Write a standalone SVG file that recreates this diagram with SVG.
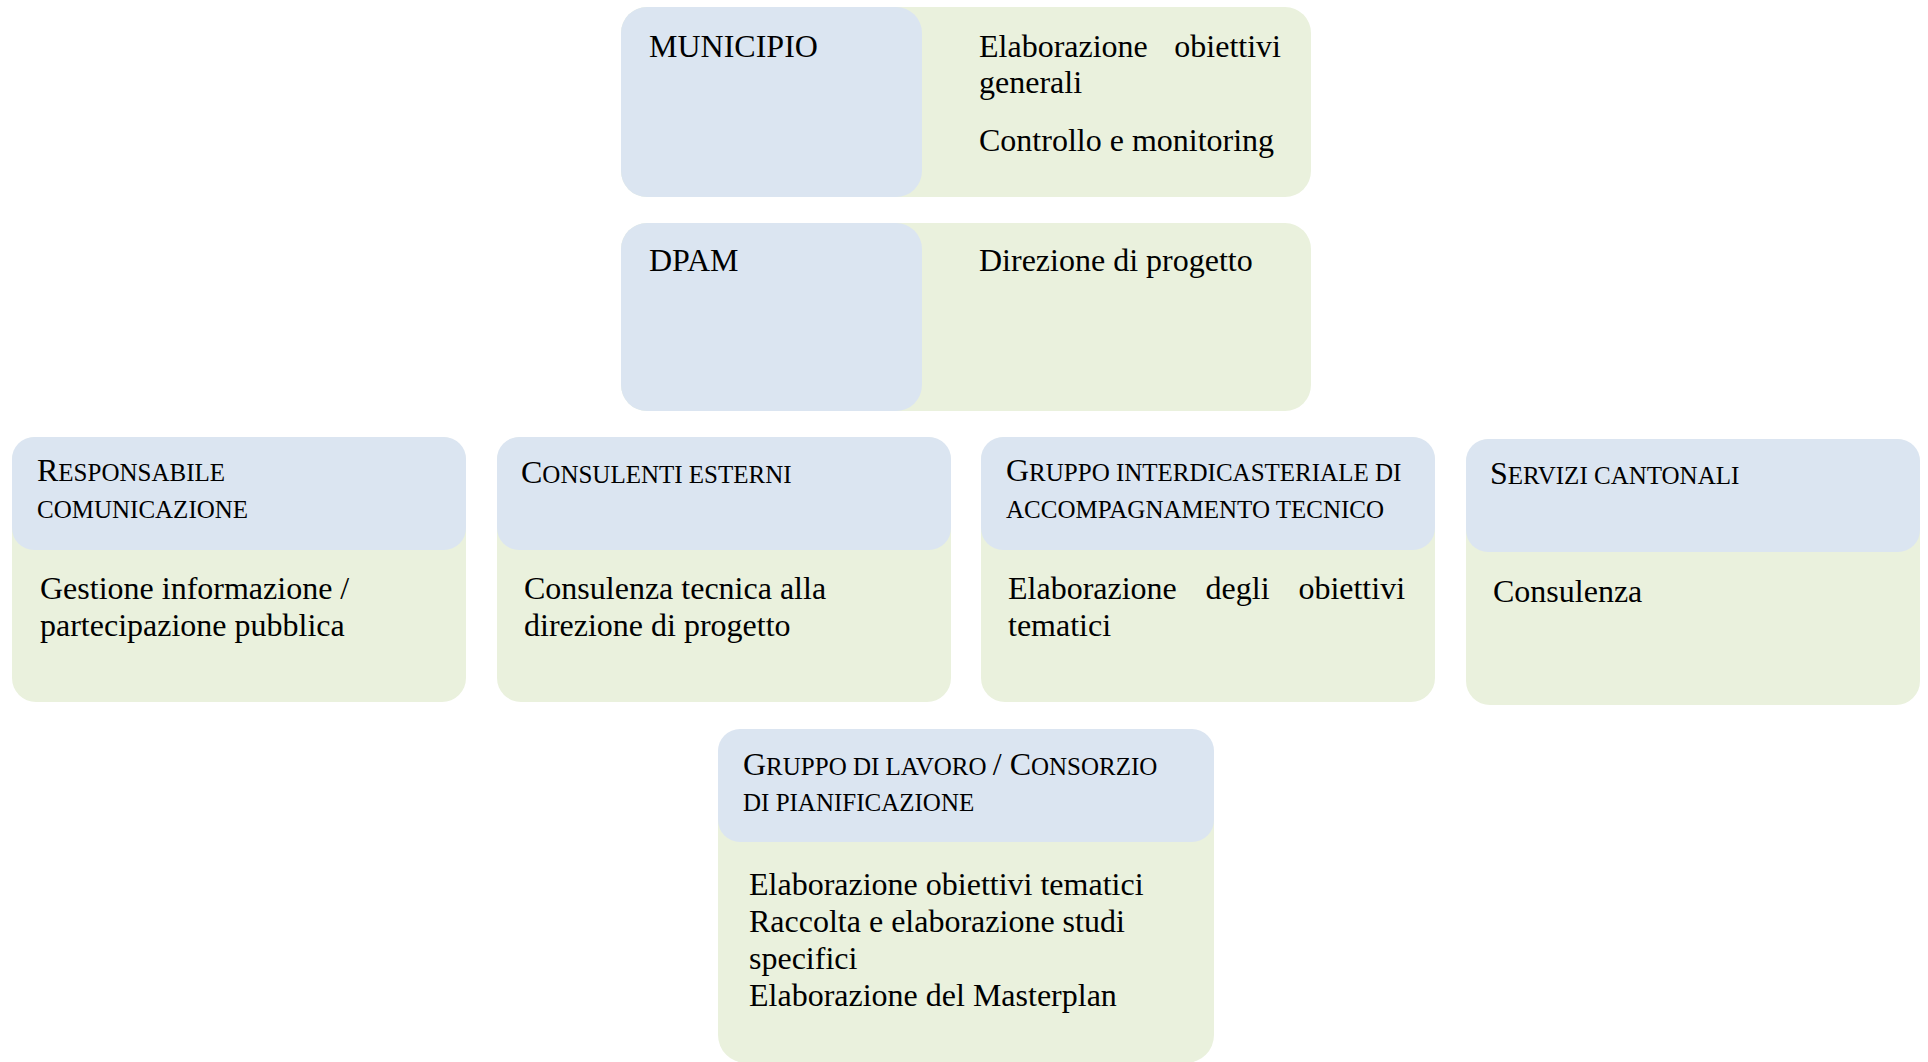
<svg xmlns="http://www.w3.org/2000/svg" width="1928" height="1062" viewBox="0 0 1928 1062">
<style>
.bg{fill:#ffffff}
.g{fill:#EAF1DD}
.b{fill:#DBE5F1}
.t{font-family:"Liberation Serif","Times New Roman",serif;font-size:32px;fill:#000}
.sc{font-size:25px}
</style>
<rect class="bg" x="0" y="0" width="1928" height="1062"/>
<g id="connectors"/>
<g id="municipio">
<rect class="g" x="621" y="7" width="690" height="190" rx="26"/>
<rect class="b" x="621" y="7" width="301" height="190" rx="26"/>
<text class="t" x="649" y="57">MUNICIPIO</text>
<text class="t" x="979" y="57" style="word-spacing:18.5px">Elaborazione obiettivi</text>
<text class="t" x="979" y="93">generali</text>
<text class="t" x="979" y="151">Controllo e monitoring</text>
</g>
<g id="dpam">
<rect class="g" x="621" y="223" width="690" height="188" rx="26"/>
<rect class="b" x="621" y="223" width="301" height="188" rx="26"/>
<text class="t" x="649" y="271">DPAM</text>
<text class="t" x="979" y="271">Direzione di progetto</text>
</g>
<g id="responsabile">
<rect class="g" x="12" y="437" width="454" height="265" rx="24"/>
<rect class="b" x="12" y="437" width="454" height="113" rx="22"/>
<text class="t" x="37" y="481">R<tspan class="sc">ESPONSABILE</tspan></text>
<text class="t sc" x="37" y="518">COMUNICAZIONE</text>
<text class="t" x="40" y="599">Gestione informazione /</text>
<text class="t" x="40" y="636">partecipazione pubblica</text>
</g>
<g id="consulenti">
<rect class="g" x="497" y="437" width="454" height="265" rx="24"/>
<rect class="b" x="497" y="437" width="454" height="113" rx="22"/>
<text class="t" x="521" y="483">C<tspan class="sc">ONSULENTI ESTERNI</tspan></text>
<text class="t" x="524" y="599">Consulenza tecnica alla</text>
<text class="t" x="524" y="636">direzione di progetto</text>
</g>
<g id="gruppo-interdicasteriale">
<rect class="g" x="981" y="437" width="454" height="265" rx="24"/>
<rect class="b" x="981" y="437" width="454" height="113" rx="22"/>
<text class="t" x="1006" y="481">G<tspan class="sc">RUPPO INTERDICASTERIALE DI</tspan></text>
<text class="t sc" x="1006" y="518">ACCOMPAGNAMENTO TECNICO</text>
<text class="t" x="1008" y="599" style="word-spacing:20.8px">Elaborazione degli obiettivi</text>
<text class="t" x="1008" y="636">tematici</text>
</g>
<g id="servizi">
<rect class="g" x="1466" y="439" width="454" height="266" rx="24"/>
<rect class="b" x="1466" y="439" width="454" height="113" rx="22"/>
<text class="t" x="1490" y="484">S<tspan class="sc">ERVIZI CANTONALI</tspan></text>
<text class="t" x="1493" y="602">Consulenza</text>
</g>
<g id="gruppo-lavoro">
<rect class="g" x="718" y="729" width="496" height="334" rx="28"/>
<rect class="b" x="718" y="729" width="496" height="113" rx="22"/>
<text class="t" x="743" y="775">G<tspan class="sc">RUPPO DI LAVORO </tspan>/ C<tspan class="sc">ONSORZIO</tspan></text>
<text class="t sc" x="743" y="811">DI PIANIFICAZIONE</text>
<text class="t" x="749" y="895">Elaborazione obiettivi tematici</text>
<text class="t" x="749" y="932">Raccolta e elaborazione studi</text>
<text class="t" x="749" y="969">specifici</text>
<text class="t" x="749" y="1006">Elaborazione del Masterplan</text>
</g>
</svg>
